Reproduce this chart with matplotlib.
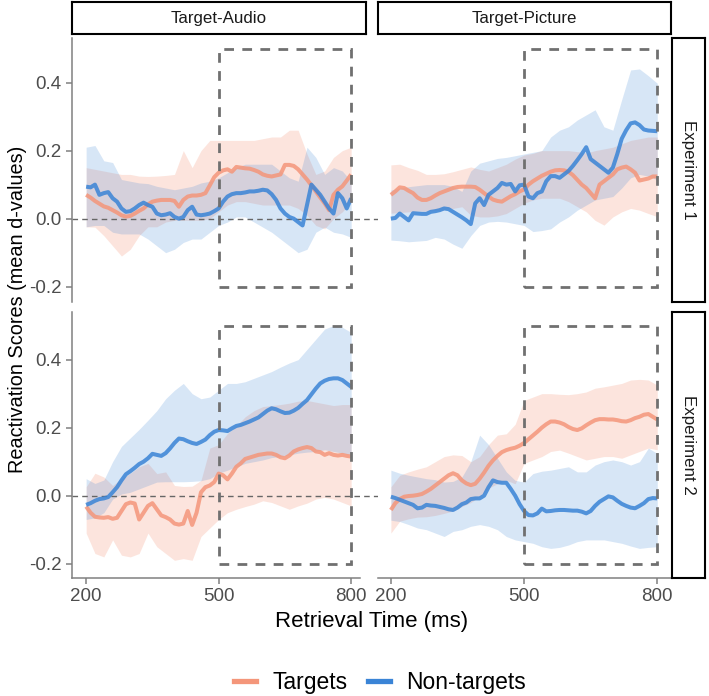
import numpy as np
import matplotlib
matplotlib.use('Agg')
import matplotlib.pyplot as plt
from matplotlib.lines import Line2D
from matplotlib.patches import Rectangle

plt.rcParams['font.family'] = ['Liberation Sans', 'DejaVu Sans']

# time grids (ms)
t_line = np.arange(200, 801, 10)
t_band = np.arange(200, 801, 20)

conditions = ['Target-Audio', 'Target-Picture']
experiments = ['Experiment 1', 'Experiment 2']
series_names = ['Targets', 'Non-targets']

# ---- Experiment 1, Target-Audio
e1_audio_targets = [0.07, 0.062, 0.052, 0.044, 0.036, 0.032, 0.025, 0.018, 0.01, 0.006, 0.008,
                    0.015, 0.023, 0.03, 0.042, 0.05, 0.053, 0.055, 0.055, 0.055, 0.052,
                    0.035, 0.055, 0.065, 0.068, 0.068, 0.07, 0.075, 0.098, 0.122, 0.135,
                    0.142, 0.145, 0.138, 0.152, 0.15, 0.148, 0.147, 0.143, 0.138, 0.13,
                    0.126, 0.124, 0.127, 0.13, 0.158, 0.158, 0.155, 0.145, 0.13, 0.115,
                    0.098, 0.08, 0.062, 0.045, 0.025, 0.07, 0.085, 0.095, 0.112, 0.13]
e1_audio_nontargets = [0.094, 0.092, 0.10, 0.07, 0.075, 0.078, 0.06, 0.05, 0.03, 0.02, 0.022,
                       0.03, 0.04, 0.047, 0.04, 0.035, 0.015, 0.01, 0.012, 0.016, 0.005,
                       0.0, 0.005, 0.025, 0.035, 0.012, 0.01, 0.012, 0.015, 0.022, 0.03,
                       0.05, 0.065, 0.072, 0.075, 0.075, 0.077, 0.08, 0.08, 0.082, 0.085,
                       0.083, 0.072, 0.055, 0.03, 0.015, 0.005, 0.0, -0.01, -0.02, 0.04,
                       0.10, 0.085, 0.07, 0.05, 0.03, 0.015, 0.075, 0.06, 0.03, 0.06]
e1_audio_targets_lo = [-0.024, -0.025, -0.05, -0.08, -0.11, -0.09, -0.05, -0.024, -0.024, -0.01, -0.005,
                       -0.005, -0.005, -0.005, 0.0, 0.02, 0.04, 0.05, 0.05, 0.045, 0.04,
                       0.04, 0.04, 0.04, 0.03, 0.01, -0.02, -0.03, 0.0, 0.02, 0.05]
e1_audio_targets_hi = [0.15, 0.145, 0.14, 0.135, 0.13, 0.13, 0.125, 0.124, 0.125, 0.127, 0.13,
                       0.2, 0.15, 0.2, 0.23, 0.23, 0.23, 0.23, 0.23, 0.23, 0.235,
                       0.24, 0.24, 0.26, 0.26, 0.19, 0.13, 0.14, 0.18, 0.2, 0.21]
e1_audio_nontargets_lo = [-0.024, -0.02, -0.02, -0.04, -0.045, -0.045, -0.045, -0.06, -0.08, -0.1, -0.09,
                          -0.07, -0.06, -0.06, -0.04, -0.02, -0.01, 0.005, 0.005, -0.01, -0.025,
                          -0.04, -0.06, -0.08, -0.1, -0.09, -0.04, -0.025, -0.04, -0.045, -0.055]
e1_audio_nontargets_hi = [0.21, 0.215, 0.17, 0.165, 0.115, 0.11, 0.105, 0.103, 0.095, 0.09, 0.085,
                          0.09, 0.095, 0.105, 0.11, 0.12, 0.135, 0.15, 0.16, 0.16, 0.16,
                          0.16, 0.14, 0.12, 0.11, 0.21, 0.18, 0.13, 0.15, 0.14, 0.11]

# ---- Experiment 1, Target-Picture
e1_picture_targets = [0.07, 0.08, 0.092, 0.09, 0.082, 0.075, 0.062, 0.055, 0.055, 0.06, 0.068,
                      0.075, 0.08, 0.085, 0.09, 0.093, 0.094, 0.094, 0.094, 0.093, 0.085,
                      0.075, 0.065, 0.056, 0.052, 0.05, 0.058, 0.066, 0.072, 0.08, 0.086,
                      0.1, 0.11, 0.118, 0.126, 0.132, 0.138, 0.142, 0.143, 0.142, 0.138,
                      0.128, 0.114, 0.1, 0.09, 0.075, 0.06, 0.1, 0.11, 0.12, 0.13,
                      0.145, 0.15, 0.153, 0.145, 0.135, 0.112, 0.115, 0.118, 0.124, 0.124]
e1_picture_nontargets = [0.0, 0.002, 0.015, 0.005, -0.005, 0.016, 0.015, 0.014, 0.014, 0.02, 0.022,
                         0.025, 0.03, 0.028, 0.02, 0.012, 0.004, -0.005, -0.016, 0.045, 0.06,
                         0.04, 0.07, 0.08, 0.09, 0.105, 0.1, 0.102, 0.08, 0.098, 0.1,
                         0.065, 0.06, 0.075, 0.08, 0.11, 0.125, 0.125, 0.12, 0.13, 0.14,
                         0.155, 0.172, 0.19, 0.21, 0.175, 0.165, 0.155, 0.145, 0.135, 0.15,
                         0.19, 0.235, 0.26, 0.28, 0.283, 0.275, 0.262, 0.259, 0.258, 0.257]
e1_picture_targets_lo = [0.016, 0.018, 0.02, 0.022, 0.022, 0.024, 0.026, 0.03, 0.035, 0.01, 0.005,
                         0.005, 0.008, 0.015, 0.03, 0.045, 0.055, 0.06, 0.06, 0.06, 0.05,
                         0.035, 0.02, -0.005, -0.019, 0.005, 0.02, 0.03, 0.025, 0.015, 0.006]
e1_picture_targets_hi = [0.158, 0.16, 0.15, 0.142, 0.13, 0.13, 0.132, 0.138, 0.145, 0.152, 0.145,
                         0.14, 0.15, 0.16, 0.175, 0.187, 0.192, 0.2, 0.2, 0.2, 0.2,
                         0.197, 0.193, 0.2, 0.205, 0.21, 0.22, 0.23, 0.235, 0.24, 0.24]
e1_picture_nontargets_lo = [-0.063, -0.065, -0.068, -0.066, -0.064, -0.055, -0.06, -0.075, -0.087, -0.05, -0.02,
                            -0.01, -0.008, -0.01, -0.015, -0.02, -0.038, -0.035, -0.03, -0.01, 0.005,
                            0.025, 0.04, 0.055, 0.06, 0.065, 0.09, 0.12, 0.13, 0.125, 0.114]
e1_picture_nontargets_hi = [0.084, 0.09, 0.094, 0.097, 0.1, 0.1, 0.1, 0.095, 0.08, 0.14, 0.163,
                            0.17, 0.177, 0.18, 0.185, 0.19, 0.195, 0.2, 0.24, 0.26, 0.27,
                            0.29, 0.305, 0.32, 0.27, 0.26, 0.35, 0.437, 0.44, 0.42, 0.398]

# ---- Experiment 2, Target-Audio
e2_audio_targets = [-0.032, -0.05, -0.062, -0.064, -0.065, -0.063, -0.068, -0.065, -0.045, -0.025, -0.02,
                    -0.023, -0.07, -0.05, -0.03, -0.022, -0.04, -0.058, -0.063, -0.07, -0.082,
                    -0.085, -0.082, -0.045, -0.086, -0.05, 0.01, 0.025, 0.03, 0.04, 0.065,
                    0.06, 0.048, 0.065, 0.085, 0.095, 0.108, 0.112, 0.116, 0.12, 0.122,
                    0.124, 0.124, 0.12, 0.113, 0.11, 0.118, 0.13, 0.136, 0.14, 0.143,
                    0.14, 0.13, 0.128, 0.12, 0.125, 0.12, 0.118, 0.12, 0.117, 0.115]
e2_audio_nontargets = [-0.027, -0.022, -0.015, -0.01, -0.008, -0.004, 0.01, 0.025, 0.045, 0.063, 0.072,
                       0.082, 0.093, 0.1, 0.11, 0.123, 0.12, 0.117, 0.125, 0.139, 0.155,
                       0.168, 0.166, 0.16, 0.155, 0.152, 0.158, 0.165, 0.178, 0.188, 0.193,
                       0.192, 0.19, 0.198, 0.205, 0.208, 0.213, 0.218, 0.224, 0.23, 0.24,
                       0.25, 0.257, 0.254, 0.248, 0.243, 0.244, 0.25, 0.258, 0.27, 0.281,
                       0.298, 0.315, 0.33, 0.338, 0.343, 0.345, 0.345, 0.34, 0.33, 0.32]
e2_audio_targets_lo = [-0.11, -0.17, -0.18, -0.13, -0.175, -0.18, -0.17, -0.11, -0.15, -0.17, -0.19,
                       -0.185, -0.19, -0.12, -0.095, -0.07, -0.05, -0.04, -0.032, -0.025, -0.015,
                       -0.02, -0.03, -0.04, -0.03, -0.022, -0.01, -0.005, -0.01, -0.02, -0.03]
e2_audio_targets_hi = [0.026, 0.066, 0.055, 0.03, 0.05, 0.066, 0.085, 0.095, 0.065, 0.07, 0.03,
                       0.027, 0.028, 0.045, 0.14, 0.15, 0.183, 0.205, 0.232, 0.25, 0.262,
                       0.265, 0.268, 0.272, 0.278, 0.28, 0.275, 0.27, 0.265, 0.268, 0.268]
e2_audio_nontargets_lo = [-0.07, -0.065, -0.05, -0.01, 0.005, 0.01, 0.02, 0.03, 0.04, 0.041, 0.041,
                          0.041, 0.042, 0.044, 0.05, 0.066, 0.075, 0.085, 0.095, 0.1, 0.105,
                          0.112, 0.115, 0.12, 0.125, 0.128, 0.13, 0.135, 0.13, 0.125, 0.12]
e2_audio_nontargets_hi = [0.05, 0.036, 0.046, 0.1, 0.145, 0.17, 0.195, 0.222, 0.25, 0.285, 0.31,
                          0.33, 0.3, 0.285, 0.29, 0.31, 0.33, 0.33, 0.335, 0.345, 0.355,
                          0.365, 0.378, 0.39, 0.4, 0.43, 0.46, 0.49, 0.5, 0.495, 0.48]

# ---- Experiment 2, Target-Picture
e2_picture_targets = [-0.042, -0.022, -0.01, -0.003, -0.001, 0.0, 0.002, 0.005, 0.012, 0.02, 0.03,
                      0.04, 0.05, 0.06, 0.066, 0.06, 0.045, 0.036, 0.031, 0.035, 0.05,
                      0.068, 0.088, 0.104, 0.117, 0.128, 0.134, 0.138, 0.141, 0.147, 0.155,
                      0.166, 0.177, 0.188, 0.2, 0.21, 0.218, 0.218, 0.215, 0.21, 0.202,
                      0.196, 0.193, 0.198, 0.207, 0.215, 0.222, 0.225, 0.225, 0.224, 0.224,
                      0.222, 0.219, 0.218, 0.222, 0.228, 0.232, 0.238, 0.24, 0.232, 0.224]
e2_picture_nontargets = [-0.003, -0.007, -0.012, -0.017, -0.022, -0.027, -0.037, -0.035, -0.027, -0.029, -0.03,
                         -0.033, -0.036, -0.04, -0.042, -0.035, -0.025, -0.02, -0.01, -0.008, -0.008,
                         0.0, 0.025, 0.045, 0.04, 0.038, 0.038, 0.02, 0.0, -0.025, -0.045,
                         -0.057, -0.058, -0.052, -0.038, -0.046, -0.045, -0.043, -0.042, -0.042, -0.043,
                         -0.044, -0.044, -0.047, -0.052, -0.045, -0.03, -0.018, -0.01, -0.002, -0.005,
                         -0.015, -0.024, -0.03, -0.035, -0.037, -0.03, -0.022, -0.01, -0.007, -0.008]
e2_picture_targets_lo = [-0.11, -0.075, -0.068, -0.063, -0.062, -0.058, -0.052, -0.045, -0.032, -0.02, -0.003,
                         0.022, 0.035, 0.045, 0.035, 0.095, 0.105, 0.115, 0.13, 0.134, 0.125,
                         0.115, 0.105, 0.11, 0.115, 0.115, 0.11, 0.12, 0.13, 0.14, 0.135]
e2_picture_targets_hi = [0.026, 0.06, 0.07, 0.078, 0.085, 0.1, 0.115, 0.12, 0.118, 0.1, 0.115,
                         0.15, 0.178, 0.182, 0.21, 0.28, 0.29, 0.3, 0.3, 0.298, 0.297,
                         0.3, 0.305, 0.316, 0.32, 0.325, 0.33, 0.34, 0.342, 0.34, 0.325]
e2_picture_nontargets_lo = [-0.072, -0.076, -0.085, -0.095, -0.1, -0.11, -0.12, -0.105, -0.1, -0.09, -0.085,
                            -0.09, -0.1, -0.12, -0.13, -0.135, -0.14, -0.15, -0.155, -0.152, -0.145,
                            -0.135, -0.13, -0.13, -0.13, -0.135, -0.14, -0.148, -0.155, -0.152, -0.15]
e2_picture_nontargets_hi = [0.075, 0.066, 0.06, 0.055, 0.05, 0.047, 0.04, 0.042, 0.055, 0.1, 0.178,
                            0.15, 0.11, 0.07, 0.045, 0.04, 0.065, 0.072, 0.075, 0.08, 0.085,
                            0.07, 0.07, 0.09, 0.1, 0.105, 0.1, 0.09, 0.1, 0.14, 0.124]

window_x = (500, 800)
window_y = (-0.2, 0.5)
x_ticks = [200, 500, 800]
y_ticks = [-0.2, 0.0, 0.2, 0.4]
y_tick_labels = ['-0.2', '0.0', '0.2', '0.4']

col_targets = '#F4967A'
col_nontargets = '#3A84D6'
col_axis = '#808080'
col_text = '#4D4D4D'

panels = {
    (0, 0): (e1_audio_targets, e1_audio_targets_lo, e1_audio_targets_hi,
             e1_audio_nontargets, e1_audio_nontargets_lo, e1_audio_nontargets_hi),
    (0, 1): (e1_picture_targets, e1_picture_targets_lo, e1_picture_targets_hi,
             e1_picture_nontargets, e1_picture_nontargets_lo, e1_picture_nontargets_hi),
    (1, 0): (e2_audio_targets, e2_audio_targets_lo, e2_audio_targets_hi,
             e2_audio_nontargets, e2_audio_nontargets_lo, e2_audio_nontargets_hi),
    (1, 1): (e2_picture_targets, e2_picture_targets_lo, e2_picture_targets_hi,
             e2_picture_nontargets, e2_picture_nontargets_lo, e2_picture_nontargets_hi),
}

W, H = 709, 696
fig = plt.figure(figsize=(W / 100, H / 100), dpi=100)


def px_rect(x0, y0, x1, y1):
    # pixel box (top-left origin) -> figure fraction [l, b, w, h]
    return [x0 / W, 1 - y1 / H, (x1 - x0) / W, (y1 - y0) / H]


col_px = [(72, 360), (378, 671)]
row_px = [(38, 302), (312, 578)]
xlims = [(168, 820), (171, 831)]
ylims = [(-0.245, 0.531), (-0.242, 0.540)]

for (r, c), (tg, tg_lo, tg_hi, nt, nt_lo, nt_hi) in panels.items():
    ax = fig.add_axes(px_rect(col_px[c][0], row_px[r][0], col_px[c][1], row_px[r][1]))
    ax.set_xlim(*xlims[c])
    ax.set_ylim(*ylims[r])

    ax.fill_between(t_band, tg_lo, tg_hi, color=col_targets, alpha=0.25, lw=0)
    ax.fill_between(t_band, nt_lo, nt_hi, color=col_nontargets, alpha=0.2, lw=0)

    if c == 0:  # zero line runs across both panels of a row
        ax.axhline(0, xmin=0, xmax=(671 - 72) / (360 - 72), color='#666666', lw=1.0,
                   ls=(0, (4, 3)), clip_on=False, zorder=1)

    ax.plot(t_line, tg, color=col_targets, lw=2.9, alpha=0.85, solid_capstyle='butt', zorder=3)
    ax.plot(t_line, nt, color=col_nontargets, lw=2.9, alpha=0.85, solid_capstyle='butt', zorder=3)

    ax.add_patch(Rectangle((window_x[0], window_y[0]), window_x[1] - window_x[0],
                           window_y[1] - window_y[0], fill=False, edgecolor='#707070',
                           lw=2.0, ls=(0, (3.5, 3)), zorder=4))

    for s in ['top', 'right']:
        ax.spines[s].set_visible(False)
    ax.spines['left'].set_visible(c == 0)
    ax.spines['bottom'].set_visible(r == 1)
    ax.spines['left'].set_color(col_axis)
    ax.spines['bottom'].set_color(col_axis)
    ax.spines['left'].set_linewidth(1.1)
    ax.spines['bottom'].set_linewidth(1.1)

    ax.tick_params(colors=col_axis, labelcolor=col_text, labelsize=13.5, length=4, width=1.1)
    if c == 0:
        ax.set_yticks(y_ticks)
        ax.set_yticklabels(y_tick_labels)
    else:
        ax.set_yticks([])
    if r == 1:
        ax.set_xticks(x_ticks)
    else:
        ax.set_xticks([])

    # facet strips
    if r == 0:
        sx = fig.add_axes(px_rect(col_px[c][0], 2, [366, 671][c], 34))
        sx.set_xticks([])
        sx.set_yticks([])
        for sp in sx.spines.values():
            sp.set_linewidth(1.5)
            sp.set_color('black')
        sx.text(0.5, 0.5, conditions[c], ha='center', va='center', fontsize=12.2, color='#1a1a1a')
    if c == 1:
        sy = fig.add_axes(px_rect(672, row_px[r][0], 705, row_px[r][1]))
        sy.set_xticks([])
        sy.set_yticks([])
        for sp in sy.spines.values():
            sp.set_linewidth(1.5)
            sp.set_color('black')
        sy.text(0.5, 0.5, experiments[r], ha='center', va='center', rotation=-90,
                fontsize=12.2, color='#1a1a1a')

fig.text(18 / W, 1 - 309 / H, 'Reactivation Scores (mean d-values)', rotation=90,
         ha='center', va='center', fontsize=14.3)
fig.text(372 / W, 1 - 622 / H, 'Retrieval Time (ms)', ha='center', va='center', fontsize=16)

handles = [Line2D([], [], color=col_targets, lw=3.8),
           Line2D([], [], color=col_nontargets, lw=3.8)]
fig.legend(handles, series_names, loc='center', bbox_to_anchor=(380 / W, 1 - 683 / H),
           ncol=2, frameon=False, fontsize=16.5, handlelength=0.95, columnspacing=0.9,
           handletextpad=0.7)

fig.savefig('out.png', dpi=100)
